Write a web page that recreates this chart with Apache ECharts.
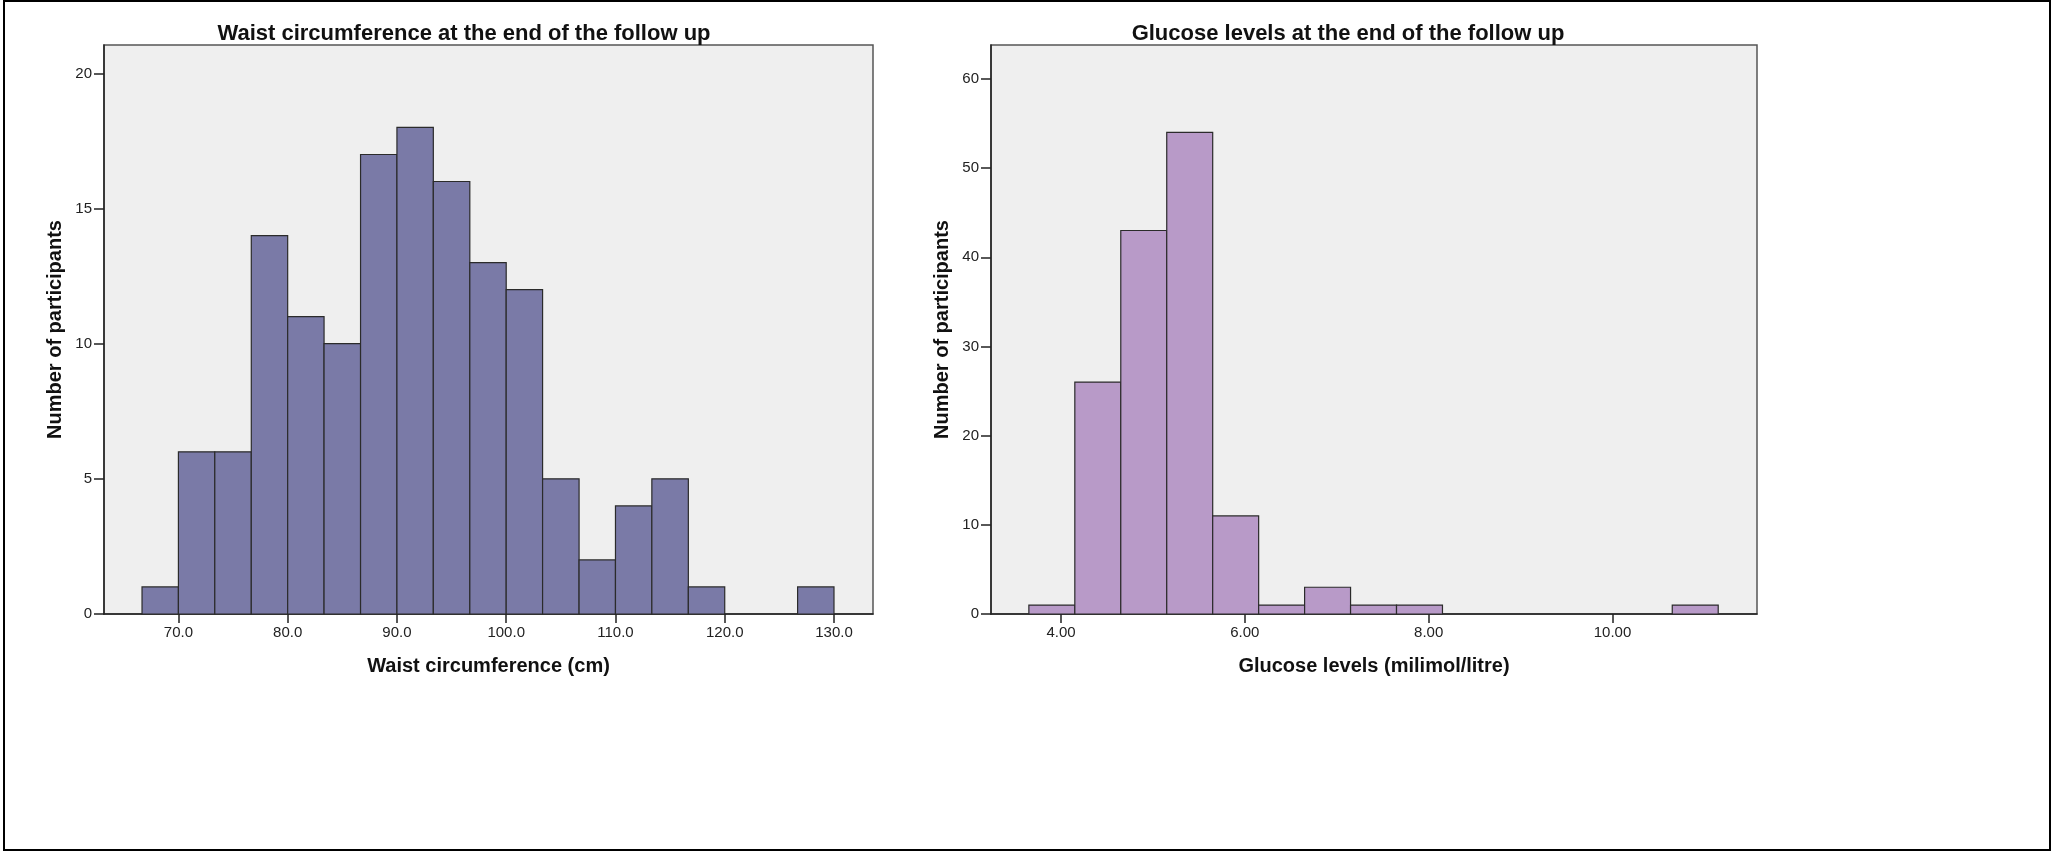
<!DOCTYPE html>
<html>
<head>
<meta charset="utf-8">
<title>Follow up histograms</title>
<script src="https://cdn.jsdelivr.net/npm/echarts@6/dist/echarts.min.js"></script>
<style>
  html, body { margin: 0; padding: 0; background: #ffffff; }
  #chart { width: 2053px; height: 853px; }
</style>
</head>
<body>
<div id="chart"></div>
<script>
// Waist circumference (cm): bin edges and participant counts per bin
const waistEdges = [66.67, 70.0, 73.33, 76.67, 80.0, 83.33, 86.67, 90.0, 93.33, 96.67,
                    100.0, 103.33, 106.67, 110.0, 113.33, 116.67, 120.0, 123.33, 126.67, 130.0];
const waistCounts = [1, 6, 6, 14, 11, 10, 17, 18, 16, 13, 12, 5, 2, 4, 5, 1, 0, 0, 1];
const waistXTicks = [70, 80, 90, 100, 110, 120, 130];
const waistYTicks = [0, 5, 10, 15, 20];

// Glucose levels (milimol/litre): bin edges and participant counts per bin
const glucoseEdges = [3.65, 4.15, 4.65, 5.15, 5.65, 6.15, 6.65, 7.15, 7.65, 8.15,
                      8.65, 9.15, 9.65, 10.15, 10.65, 11.15];
const glucoseCounts = [1, 26, 43, 54, 11, 1, 3, 1, 1, 0, 0, 0, 0, 0, 1];
const glucoseXTicks = [4, 6, 8, 10];
const glucoseYTicks = [0, 10, 20, 30, 40, 50, 60];

const FONT = '"Liberation Sans", Arial, Helvetica, sans-serif';

function toBins(edges, counts) {
  return counts.map((c, i) => [edges[i], edges[i + 1], c]);
}

function histRenderer(fill) {
  return function (params, api) {
    const count = api.value(2);
    if (!count) return null;
    const topLeft = api.coord([api.value(0), count]);
    const bottomRight = api.coord([api.value(1), 0]);
    return {
      type: 'rect',
      shape: {
        x: topLeft[0],
        y: topLeft[1],
        width: bottomRight[0] - topLeft[0],
        height: bottomRight[1] - topLeft[1]
      },
      style: { fill: fill, stroke: '#2b2b2b', lineWidth: 1.2 }
    };
  };
}

function xAxisFor(gridIndex, min, max, ticks, decimals, name) {
  return {
    type: 'value',
    gridIndex: gridIndex,
    min: min,
    max: max,
    splitLine: { show: false },
    axisLine: { show: true, onZero: false, lineStyle: { color: '#222', width: 1.5 } },
    axisTick: { show: true, length: 9, lineStyle: { color: '#222', width: 1.5 }, customValues: ticks },
    axisLabel: {
      customValues: ticks,
      margin: 11,
      color: '#222',
      fontFamily: FONT,
      fontSize: 15,
      formatter: v => v.toFixed(decimals)
    },
    name: name,
    nameLocation: 'middle',
    nameGap: 42,
    nameTextStyle: { fontFamily: FONT, fontSize: 20, fontWeight: 'bold', color: '#111' }
  };
}

function yAxisFor(gridIndex, max, ticks) {
  return {
    type: 'value',
    gridIndex: gridIndex,
    min: 0,
    max: max,
    splitLine: { show: false },
    axisLine: { show: true, lineStyle: { color: '#222', width: 1.5 } },
    axisTick: { show: true, length: 10, lineStyle: { color: '#222', width: 1.5 }, customValues: ticks },
    axisLabel: {
      customValues: ticks,
      margin: 12,
      color: '#222',
      fontFamily: FONT,
      fontSize: 15
    },
    name: 'Number of participants',
    nameLocation: 'middle',
    nameRotate: 90,
    nameGap: 39,
    nameTextStyle: { fontFamily: FONT, fontSize: 20, fontWeight: 'bold', color: '#111' }
  };
}

const chart = echarts.init(document.getElementById('chart'), null, { renderer: 'canvas' });

const option = {
  backgroundColor: '#ffffff',
  animation: false,
  title: [
    {
      text: 'Waist circumference at the end of the follow up',
      left: 459, top: 18, textAlign: 'center',
      textStyle: { fontFamily: FONT, fontSize: 22, fontWeight: 'bold', color: '#111' }
    },
    {
      text: 'Glucose levels at the end of the follow up',
      left: 1343, top: 18, textAlign: 'center',
      textStyle: { fontFamily: FONT, fontSize: 22, fontWeight: 'bold', color: '#111' }
    }
  ],
  grid: [
    { left: 104, top: 45, width: 769, height: 569, show: true,
      backgroundColor: '#efefef', borderColor: '#555', borderWidth: 1.5 },
    { left: 991, top: 45, width: 766, height: 569, show: true,
      backgroundColor: '#efefef', borderColor: '#555', borderWidth: 1.5 }
  ],
  xAxis: [
    xAxisFor(0, 63.19, 133.57, waistXTicks, 1, 'Waist circumference (cm)'),
    xAxisFor(1, 3.238, 11.572, glucoseXTicks, 2, 'Glucose levels (milimol/litre)')
  ],
  yAxis: [
    yAxisFor(0, 21.05, waistYTicks),
    yAxisFor(1, 63.8, glucoseYTicks)
  ],
  series: [
    {
      type: 'custom',
      xAxisIndex: 0, yAxisIndex: 0,
      renderItem: histRenderer('#7a7aa7'),
      encode: { x: [0, 1], y: 2 },
      data: toBins(waistEdges, waistCounts)
    },
    {
      type: 'custom',
      xAxisIndex: 1, yAxisIndex: 1,
      renderItem: histRenderer('#b89ac8'),
      encode: { x: [0, 1], y: 2 },
      data: toBins(glucoseEdges, glucoseCounts)
    }
  ],
  graphic: [
    {
      type: 'rect',
      shape: { x: 4, y: 1, width: 2046, height: 849 },
      style: { fill: 'none', stroke: '#000', lineWidth: 2 },
      silent: true
    }
  ]
};

chart.setOption(option);
</script>
</body>
</html>
